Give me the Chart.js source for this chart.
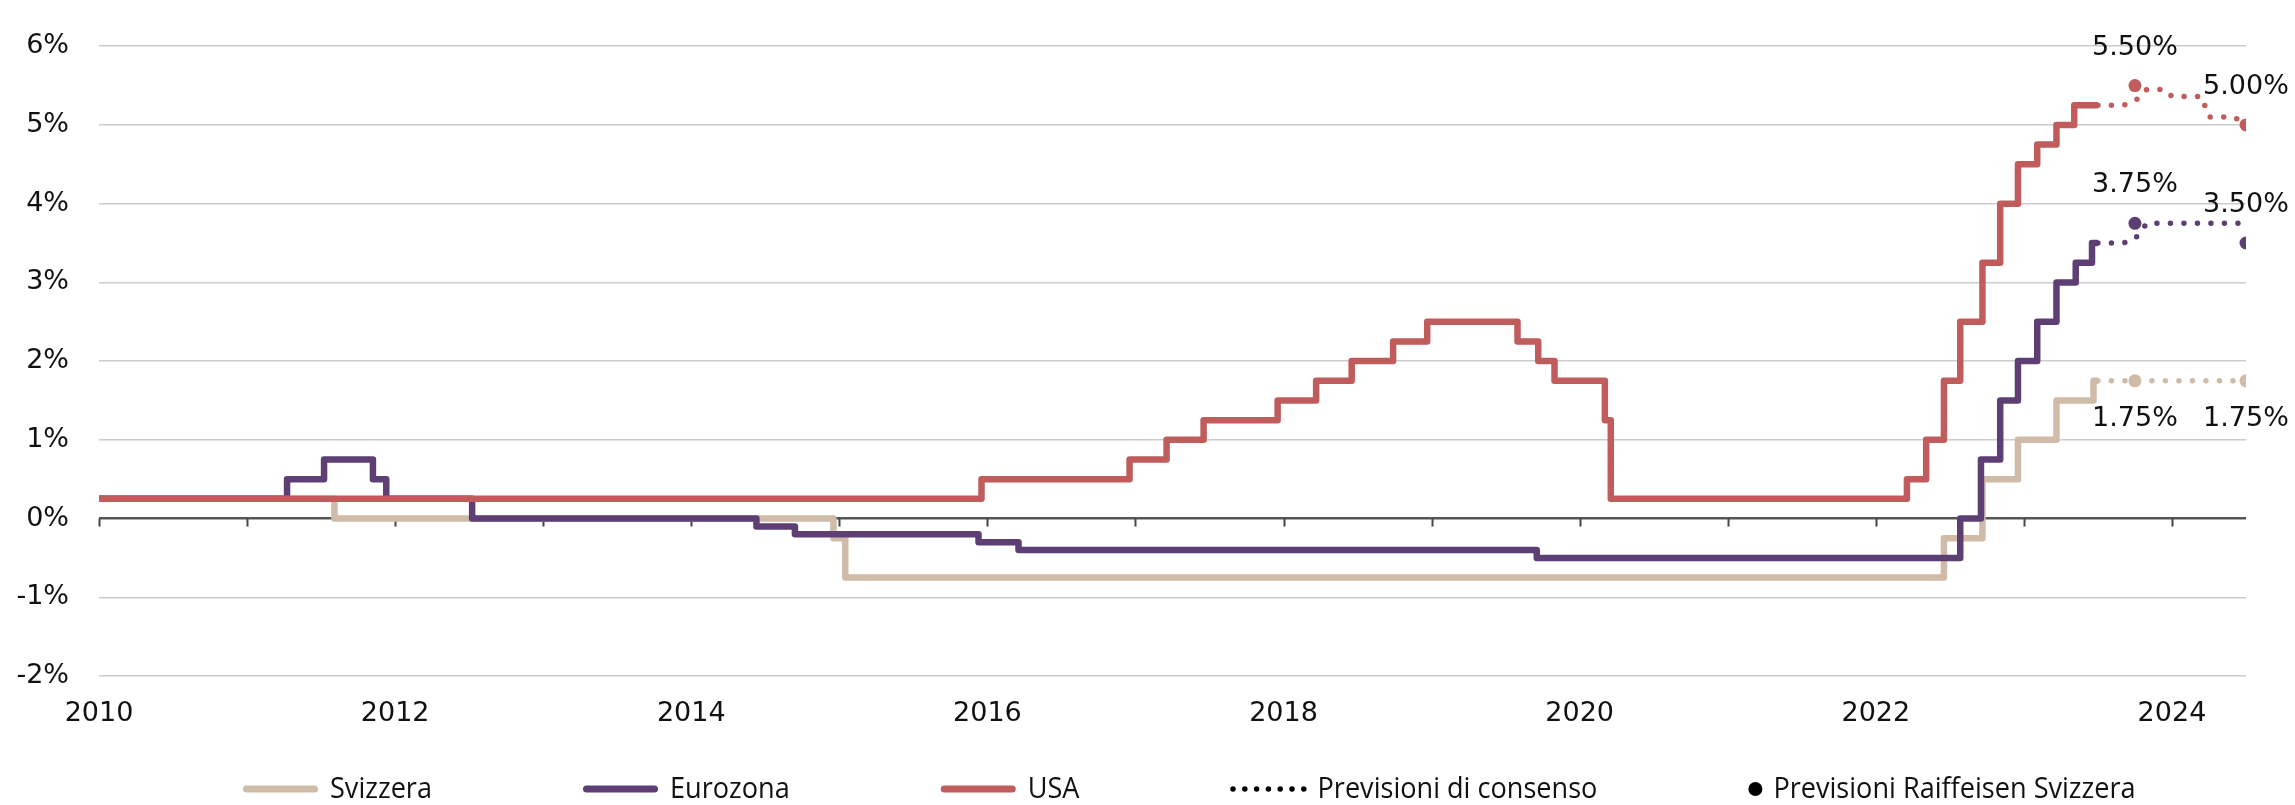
<!DOCTYPE html>
<html>
<head>
<meta charset="utf-8">
<title>Tassi guida</title>
<script src="https://cdn.jsdelivr.net/npm/chart.js@4.4.1/dist/chart.umd.min.js"></script>
<style>
  html, body { margin: 0; padding: 0; background: #ffffff; }
  canvas { display: block; }
</style>
</head>
<body>
<canvas id="ratesChart" width="2295" height="805"></canvas>
<script>
// Policy rates, change dates as decimal years (value holds from that date on)
const chDates = [2010, 2011.59, 2014.96, 2015.04, 2022.46, 2022.72, 2022.96, 2023.22, 2023.47, 2023.5];
const chRates = [0.25, 0, -0.25, -0.75, -0.25, 0.5, 1.0, 1.5, 1.75, 1.75];

const ezDates = [2010, 2011.27, 2011.52, 2011.85, 2011.94, 2012.52, 2014.44, 2014.70, 2015.94, 2016.21,
                 2019.71, 2022.57, 2022.71, 2022.84, 2022.96, 2023.09, 2023.22, 2023.35, 2023.46, 2023.5];
const ezRates = [0.25, 0.5, 0.75, 0.5, 0.25, 0, -0.1, -0.2, -0.3, -0.4,
                 -0.5, 0, 0.75, 1.5, 2.0, 2.5, 3.0, 3.25, 3.5, 3.5];

const usDates = [2010, 2015.96, 2016.96, 2017.21, 2017.46, 2017.96, 2018.22, 2018.46, 2018.74, 2018.97,
                 2019.58, 2019.72, 2019.83, 2020.17, 2020.21, 2022.21, 2022.34, 2022.46, 2022.57, 2022.72,
                 2022.84, 2022.96, 2023.09, 2023.22, 2023.34, 2023.5];
const usRates = [0.25, 0.5, 0.75, 1.0, 1.25, 1.5, 1.75, 2.0, 2.25, 2.5,
                 2.25, 2.0, 1.75, 1.25, 0.25, 0.5, 1.0, 1.75, 2.5, 3.25,
                 4.0, 4.5, 4.75, 5.0, 5.25, 5.25];

// Consensus forecasts (dotted)
const chConsDates = [2023.5, 2024.5];
const chConsRates = [1.75, 1.75];
const ezConsDates = [2023.5, 2023.67, 2023.75, 2023.83, 2024.5];
const ezConsRates = [3.5, 3.5, 3.55, 3.75, 3.75];
const usConsDates = [2023.5, 2023.67, 2023.75, 2023.83, 2023.95, 2024.0, 2024.2, 2024.25, 2024.42, 2024.5];
const usConsRates = [5.25, 5.25, 5.3, 5.45, 5.45, 5.36, 5.36, 5.1, 5.1, 5.0];

// Raiffeisen forecasts (dots)
const fcDates = [2023.75, 2024.5];
const chFc = [1.75, 1.75];
const ezFc = [3.75, 3.5];
const usFc = [5.5, 5.0];

const yTicks = [-2, -1, 0, 1, 2, 3, 4, 5, 6];
const legendLabels = ['Svizzera', 'Eurozona', 'USA', 'Previsioni di consenso', 'Previsioni Raiffeisen Svizzera'];

const COL_CH = '#cfbba8';
const COL_EZ = '#5e3f74';
const COL_US = '#c05c5c';

function toPoints(xs, ys) {
    return xs.map((x, i) => ({ x: x, y: ys[i] }));
}

function stepLine(label, xs, ys, color, order) {
    return {
        label: label,
        data: toPoints(xs, ys),
        borderColor: color,
        borderWidth: 6.5,
        borderJoinStyle: 'round',
        stepped: 'before',
        pointRadius: 0,
        order: order
    };
}

function dottedLine(xs, ys, color) {
    return {
        data: toPoints(xs, ys),
        borderColor: color,
        borderWidth: 5.5,
        borderDash: [0, 13.5],
        borderCapStyle: 'round',
        pointRadius: 0,
        order: 4
    };
}

function forecastDots(ys, color, where) {
    return {
        data: toPoints(fcDates, ys),
        showLine: false,
        pointRadius: 6.5,
        pointBackgroundColor: color,
        pointBorderWidth: 0,
        labelWhere: where,
        order: 0
    };
}

// Tick marks along the zero line
const zeroTicks = {
    id: 'zeroTicks',
    beforeDatasetsDraw(chart) {
        const { ctx, scales } = chart;
        const y0 = scales.y.getPixelForValue(0);
        ctx.save();
        ctx.strokeStyle = '#444444';
        ctx.lineWidth = 2;
        for (let yr = 2010; yr <= 2024; yr++) {
            const x = Math.round(scales.x.getPixelForValue(yr)) + 0.5;
            ctx.beginPath();
            ctx.moveTo(x, y0);
            ctx.lineTo(x, y0 + 8);
            ctx.stroke();
        }
        ctx.restore();
    }
};

// Value labels next to the forecast dots
const dotLabels = {
    id: 'dotLabels',
    afterDatasetsDraw(chart) {
        const ctx = chart.ctx;
        ctx.save();
        ctx.font = '27px "DejaVu Sans"';
        ctx.fillStyle = '#111111';
        ctx.textAlign = 'center';
        ctx.textBaseline = 'middle';
        chart.data.datasets.forEach((ds, i) => {
            if (!ds.labelWhere) return;
            chart.getDatasetMeta(i).data.forEach((pt, j) => {
                const dy = ds.labelWhere === 'above' ? -38 : 38;
                ctx.fillText(ds.data[j].y.toFixed(2) + '%', pt.x, pt.y + dy);
            });
        });
        ctx.restore();
    }
};

// Legend drawn along the bottom (slightly condensed text like the original)
const bottomLegend = {
    id: 'bottomLegend',
    afterDraw(chart) {
        const ctx = chart.ctx;
        const kinds = [
            { type: 'line', color: COL_CH },
            { type: 'line', color: COL_EZ },
            { type: 'line', color: COL_US },
            { type: 'dots', color: '#000000' },
            { type: 'dot', color: '#000000' }
        ];
        const y = 789;
        let x = 243;
        ctx.save();
        ctx.font = '30px "Open Sans"';
        ctx.textBaseline = 'middle';
        ctx.textAlign = 'left';
        const sx = 102 / ctx.measureText(legendLabels[0]).width;
        kinds.forEach((k, i) => {
            ctx.strokeStyle = k.color;
            ctx.fillStyle = k.color;
            if (k.type === 'line') {
                ctx.lineWidth = 7;
                ctx.lineCap = 'round';
                ctx.setLineDash([]);
                ctx.beginPath();
                ctx.moveTo(x + 3.5, y);
                ctx.lineTo(x + 71.5, y);
                ctx.stroke();
                x += 75 + 12;
            } else if (k.type === 'dots') {
                ctx.lineWidth = 5.5;
                ctx.lineCap = 'round';
                ctx.setLineDash([0, 11.8]);
                ctx.beginPath();
                ctx.moveTo(x + 2.5, y);
                ctx.lineTo(x + 74, y);
                ctx.stroke();
                ctx.setLineDash([]);
                x += 73 + 14;
            } else {
                ctx.beginPath();
                ctx.arc(x + 7, y, 7, 0, Math.PI * 2);
                ctx.fill();
                x += 14 + 11;
            }
            ctx.fillStyle = '#111111';
            ctx.save();
            ctx.translate(x, y);
            ctx.scale(sx, 1);
            ctx.fillText(legendLabels[i], 0, 0);
            ctx.restore();
            x += ctx.measureText(legendLabels[i]).width * sx + 151;
        });
        ctx.restore();
    }
};

new Chart(document.getElementById('ratesChart'), {
    type: 'line',
    data: {
        datasets: [
            forecastDots(usFc, COL_US, 'above'),
            forecastDots(ezFc, COL_EZ, 'above'),
            forecastDots(chFc, COL_CH, 'below'),
            stepLine('USA', usDates, usRates, COL_US, 1),
            stepLine('Eurozona', ezDates, ezRates, COL_EZ, 2),
            stepLine('Svizzera', chDates, chRates, COL_CH, 3),
            dottedLine(usConsDates, usConsRates, COL_US),
            dottedLine(ezConsDates, ezConsRates, COL_EZ),
            dottedLine(chConsDates, chConsRates, COL_CH)
        ]
    },
    options: {
        responsive: false,
        animation: false,
        devicePixelRatio: 1,
        events: [],
        layout: { padding: { top: 27, right: 49, bottom: 69, left: 0 } },
        plugins: {
            legend: { display: false },
            tooltip: { enabled: false }
        },
        scales: {
            x: {
                type: 'linear',
                min: 2010,
                max: 2024.5,
                grid: { display: false, drawTicks: false },
                border: { display: false },
                ticks: {
                    stepSize: 1,
                    includeBounds: false,
                    autoSkip: false,
                    maxRotation: 0,
                    padding: 22,
                    color: '#111111',
                    font: { family: '"DejaVu Sans"', size: 27 },
                    callback: (v) => (Number.isInteger(v) && v % 2 === 0) ? String(v) : ''
                },
                afterFit: (scale) => { scale.height = 60; }
            },
            y: {
                min: -2,
                max: 6,
                afterBuildTicks: (scale) => { scale.ticks = yTicks.map(v => ({ value: v })); },
                grid: {
                    drawTicks: false,
                    color: (c) => c.tick.value === 0 ? '#555555' : '#cccccc',
                    lineWidth: (c) => c.tick.value === 0 ? 2.5 : 1.5
                },
                border: { display: false },
                ticks: {
                    padding: 30,
                    color: '#111111',
                    font: { family: '"DejaVu Sans"', size: 27 },
                    callback: (v) => v + '%'
                },
                afterFit: (scale) => { scale.width = 99; }
            }
        }
    },
    plugins: [zeroTicks, dotLabels, bottomLegend]
});
</script>
</body>
</html>
